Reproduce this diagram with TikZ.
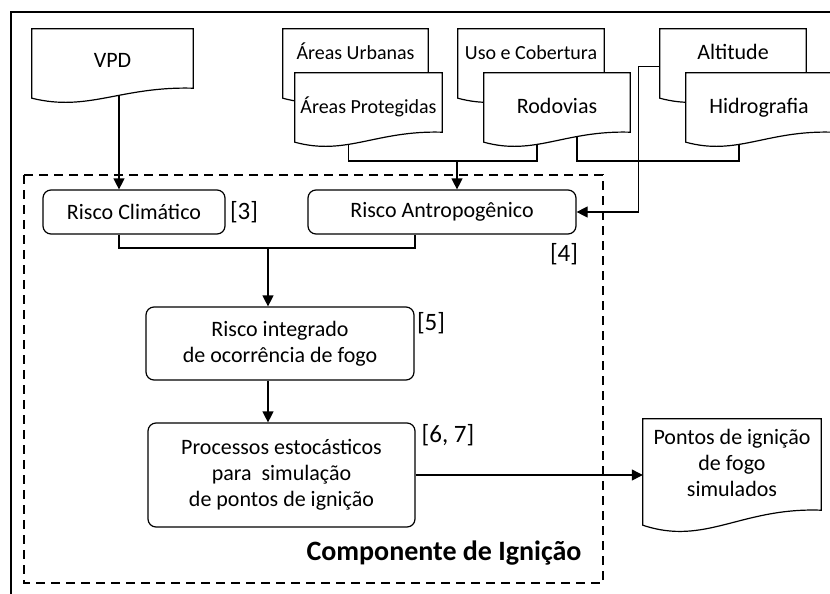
\documentclass[tikz,border=0pt]{standalone}
\usepackage{fontspec}
\setmainfont{Carlito}
\usetikzlibrary{arrows.meta,calc,backgrounds}

\newcommand{\docoutline}[2]{%
  \draw[docline] (#1.north west) -- (#1.north east) -- ([yshift=#2]#1.south east)
    .. controls ([yshift=1.2*#2]$(#1.south west)!0.55!(#1.south east)$)
    and ([yshift=-1.4*#2]$(#1.south west)!0.35!(#1.south east)$) .. (#1.south west) -- cycle;}

\begin{document}
\begin{tikzpicture}[x=1pt, y=-1pt,
  every node/.style={font=\fontsize{22}{26}\selectfont},
  docnode/.style={minimum height=69pt, inner sep=0pt, align=center},
  backdoc/.style={docnode, font=\fontsize{20}{24}\selectfont, text height=16pt, text depth=24pt},
  frontdoc/.style={docnode, text height=16pt, text depth=5pt},
  docline/.style={draw, fill=white, line width=1.2pt},
  riskbox/.style={draw, rounded corners=8pt, line width=1.2pt, inner sep=0pt, align=center},
  citelabel/.style={font=\fontsize{25}{30}\selectfont},
  wire/.style={line width=1.2pt},
  wirearrow/.style={wire, -{Triangle[length=11pt, width=11pt]}}]

\useasboundingbox (0,0) rectangle (830,594);
\draw[line width=1.5pt] (11,594) -- (11,12) -- (830,12);

\node[docnode, minimum width=161pt, text height=16pt, text depth=8pt] (vpd) at (112.5,63.5) {VPD};
\node[backdoc, minimum width=145pt] (urb) at (355.5,63.5) {Áreas Urbanas};
\node[frontdoc, minimum width=147pt, font=\fontsize{20}{24}\selectfont] (prot) at (368.5,107.5) {Áreas Protegidas};
\node[backdoc, minimum width=146pt] (uso) at (531,63.5) {Uso e Cobertura};
\node[frontdoc, minimum width=146pt] (rod) at (557,107.5) {Rodovias};
\node[backdoc, minimum width=146pt, font=\fontsize{22}{26}\selectfont] (alt) at (733,63.5) {Altitude};
\node[frontdoc, minimum width=146pt] (hid) at (759,107.5) {Hidrografia};
\node[docnode, minimum width=178pt, minimum height=106pt, text height=68pt, text depth=19pt] (pontos) at (732,472) {Pontos de ignição\\de fogo\\simulados};

\node[riskbox, minimum width=182pt, minimum height=44pt] (rc) at (134,212) {Risco Climático};
\node[riskbox, minimum width=268pt, minimum height=44pt] (ra) at (442,212) {Risco Antropogênico};
\node[riskbox, minimum width=268pt, minimum height=73pt] (ri) at (280,343.5) {Risco integrado\\de ocorrência de fogo};
\node[riskbox, minimum width=267pt, minimum height=104pt] (pe) at (281.5,475) {Processos estocásticos\\para~ simulação\\de pontos de ignição};

\node[citelabel] (c3) at (244,212) {[3]};
\node[citelabel] (c4) at (564,254) {[4]};
\node[citelabel] (c5) at (431,323) {[5]};
\node[citelabel] (c67) at (448,435) {[6, 7]};
\node[font=\bfseries\fontsize{28}{33}\selectfont] (comp) at (444,553) {Componente de Ignição};

\draw[line width=2.2pt, dash pattern=on 9pt off 6pt] (24,175) rectangle (603,583);

\coordinate (antjoin) at (457,161);
\coordinate (riskjoin) at (268,248);

\begin{scope}[on background layer]
\draw[wirearrow] ([xshift=6.5pt]vpd.center) -- ([xshift=6.5pt]vpd.center |- rc.north);
\draw[wire] ([xshift=-20pt]prot.center) |- (antjoin) -| ([xshift=-20pt]rod.center);
\draw[wire] ([xshift=20pt]rod.center) |- ([xshift=-20pt]hid.center |- antjoin) -- ([xshift=-20pt]hid.center);
\docoutline{vpd}{10pt}
\docoutline{urb}{10pt}
\docoutline{prot}{10pt}
\docoutline{uso}{10pt}
\docoutline{rod}{10pt}
\docoutline{alt}{10pt}
\docoutline{hid}{10pt}
\docoutline{pontos}{15pt}
\end{scope}

\draw[wirearrow] (antjoin) -- (antjoin |- ra.north);
\draw[wirearrow] ([yshift=-3pt]alt.west) -- ++(-21,0) |- (ra.east);
\draw[wire] ([xshift=-15pt]rc.south) |- (riskjoin) -| ([xshift=-27pt]ra.south);
\draw[wirearrow] (riskjoin) -- (riskjoin |- ri.north);
\draw[wirearrow] ([xshift=-12pt]ri.south) -- ([xshift=-12pt]ri.south |- pe.north);
\draw[wirearrow] (pe.east) -- (pe.east -| pontos.west);

\end{tikzpicture}
\end{document}
